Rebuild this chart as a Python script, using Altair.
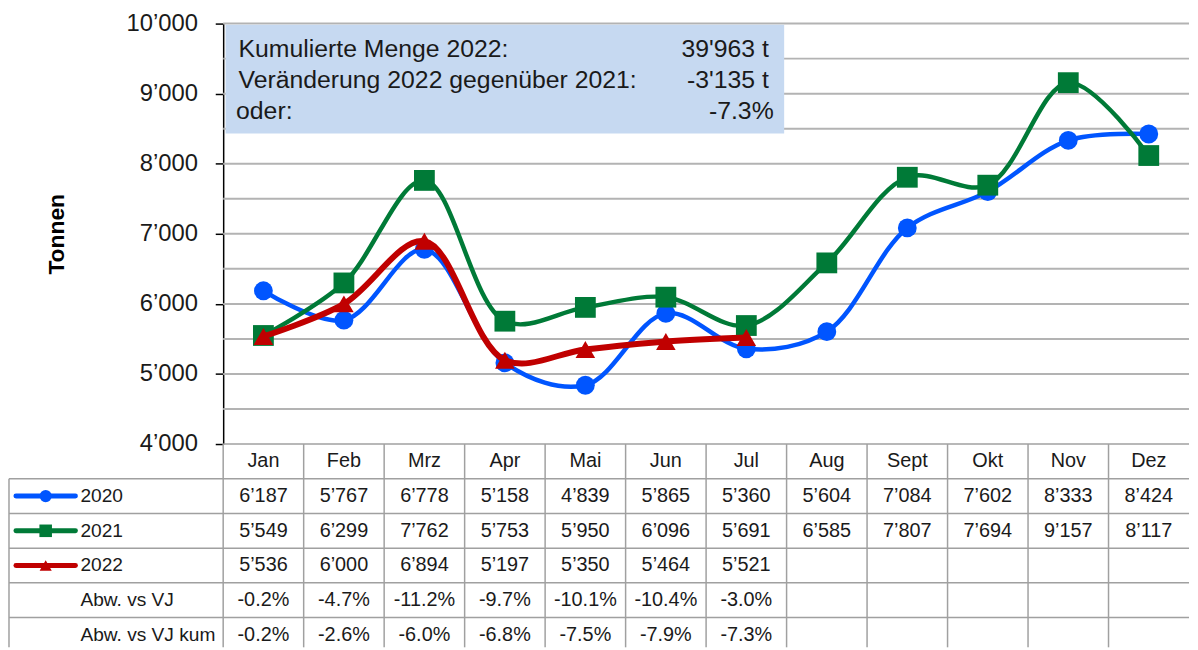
import altair as alt
import pandas as pd

# ---------------- data ----------------
months = ["Jan", "Feb", "Mrz", "Apr", "Mai", "Jun", "Jul", "Aug", "Sept", "Okt", "Nov", "Dez"]
v2020 = [6187, 5767, 6778, 5158, 4839, 5865, 5360, 5604, 7084, 7602, 8333, 8424]
v2021 = [5549, 6299, 7762, 5753, 5950, 6096, 5691, 6585, 7807, 7694, 9157, 8117]
v2022 = [5536, 6000, 6894, 5197, 5350, 5464, 5521]
abw = [-0.2, -4.7, -11.2, -9.7, -10.1, -10.4, -3.0]
abw_kum = [-0.2, -2.6, -6.0, -6.8, -7.5, -7.9, -7.3]

series_names = ["2020", "2021", "2022"]
series_values = [v2020, v2021, v2022]
series_colors = ["#0055ff", "#007a37", "#c00000"]
series_shapes = ["circle", "square", "triangle-up"]
series_widths = [4.5, 4.5, 6]
series_sizes = [360, 440, 390]
legend_sizes = [150, 160, 150]

row_labels = ["2020", "2021", "2022", "Abw. vs VJ", "Abw. vs VJ kum"]
info_labels = ["Kumulierte Menge 2022:", "Veränderung 2022 gegenüber 2021:", "oder:"]
info_values = ["39'963 t", "-3'135 t", "-7.3%"]
y_ticks = list(range(4000, 10001, 1000))
grid_values = list(range(4500, 10001, 500))

# ---------------- layout ----------------
FONT = "Liberation Sans"
W, H = 974, 424          # plot area of the line chart
TH, ROW = 205, 35        # table height / row height (px)
UNIT = W / 12            # px per month column
LEFT = 216 / UNIT        # width of the label column in column units
NROWS = TH / ROW
TXT = "#1a1a1a"
GRIDC = "#b3b3b3"
TABC = "#a0a0a0"
TFS = 20                 # table font size

xs = alt.Scale(domain=[0, 12], nice=False, zero=False)
ys = alt.Scale(domain=[4000, 10000], nice=False, zero=False)

yaxis = alt.Axis(
    values=y_ticks,
    labelExpr="replace(format(datum.value, ','), ',', '’')",
    labelFont=FONT, labelFontSize=24, labelColor=TXT, labelPadding=18,
    tickSize=8, tickColor="black", tickWidth=1.5,
    domainColor="black", domainWidth=1.5, grid=False,
    title="Tonnen", titleFont=FONT, titleFontSize=23, titleFontWeight="bold",
    titleColor="black", titlePadding=58,
)

# horizontal grid lines
grid_df = pd.DataFrame({"v": grid_values, "x0": 0, "x1": 12})
grid = alt.Chart(grid_df).mark_rule(color=GRIDC, strokeWidth=2).encode(
    x=alt.X("x0:Q", scale=xs, axis=None),
    x2="x1:Q",
    y=alt.Y("v:Q", scale=ys, axis=yaxis),
)

# info box
box_df = pd.DataFrame({"x0": [0.03], "x1": [6.97], "y0": [8430], "y1": [9985]})
box = alt.Chart(box_df).mark_rect(color="#c6d9f1").encode(
    x=alt.X("x0:Q", scale=xs), x2="x1:Q",
    y=alt.Y("y0:Q", scale=ys), y2="y1:Q",
)
info_y = [9632, 9193, 8745]
info_df = pd.DataFrame({"label": info_labels, "value": info_values, "y": info_y,
                        "xl": [0.19, 0.19, 0.16], "xr": [6.78, 6.78, 6.84]})
info_left = alt.Chart(info_df).mark_text(
    align="left", baseline="middle", font=FONT, fontSize=25, color=TXT
).encode(x=alt.X("xl:Q", scale=xs), y=alt.Y("y:Q", scale=ys), text="label:N")
info_right = alt.Chart(info_df).mark_text(
    align="right", baseline="middle", font=FONT, fontSize=25, color=TXT
).encode(x=alt.X("xr:Q", scale=xs), y=alt.Y("y:Q", scale=ys), text="value:N")

layers = [grid, box, info_left, info_right]
for name, vals, col, shp, sw, sz in zip(series_names, series_values, series_colors,
                                         series_shapes, series_widths, series_sizes):
    df = pd.DataFrame({"x": [i + 0.5 for i in range(len(vals))], "v": vals})
    base = alt.Chart(df).encode(x=alt.X("x:Q", scale=xs), y=alt.Y("v:Q", scale=ys))
    layers.append(base.mark_line(color=col, strokeWidth=sw, interpolate="catmull-rom"))
    layers.append(base.mark_point(shape=shp, filled=True, color=col, size=sz, opacity=1))

top = alt.layer(*layers).properties(width=W, height=H)

# ---------------- table ----------------
tx = alt.Scale(domain=[0, 12], nice=False, zero=False)
ty = alt.Scale(domain=[0, NROWS], nice=False, zero=False, reverse=True)

segs = [(0, 12, 0, 0)]
segs += [(-LEFT, 12, r, r) for r in range(1, 6)]
segs += [(c, c, 0, NROWS) for c in range(0, 12)]
segs += [(-LEFT, -LEFT, 1, NROWS)]
seg_df = pd.DataFrame(segs, columns=["x0", "x1", "y0", "y1"])
tgrid = alt.Chart(seg_df).mark_rule(color=TABC, strokeWidth=1.5).encode(
    x=alt.X("x0:Q", scale=tx, axis=None), x2="x1:Q",
    y=alt.Y("y0:Q", scale=ty, axis=None), y2="y1:Q",
)

head_df = pd.DataFrame({"x": [i + 0.5 for i in range(12)], "y": 0.5, "t": months})
head = alt.Chart(head_df).mark_text(font=FONT, fontSize=TFS, color=TXT, baseline="middle").encode(
    x=alt.X("x:Q", scale=tx), y=alt.Y("y:Q", scale=ty), text="t:N")

num_rows = []
for r, vals in enumerate(series_values):
    for i, v in enumerate(vals):
        num_rows.append({"x": i + 0.5, "y": r + 1.5, "v": v})
num_df = pd.DataFrame(num_rows)
nums = alt.Chart(num_df).transform_calculate(
    t="replace(format(datum.v, ','), ',', '’')"
).mark_text(font=FONT, fontSize=TFS, color=TXT, baseline="middle").encode(
    x=alt.X("x:Q", scale=tx), y=alt.Y("y:Q", scale=ty), text="t:N")

pct_rows = []
for r, vals in ((4, abw), (5, abw_kum)):
    for i, v in enumerate(vals):
        pct_rows.append({"x": i + 0.5, "y": r + 0.5, "v": v})
pct_df = pd.DataFrame(pct_rows)
pcts = alt.Chart(pct_df).transform_calculate(
    t="(datum.v < 0 ? '-' : '') + format(abs(datum.v) / 100, '.1%')"
).mark_text(font=FONT, fontSize=TFS, color=TXT, baseline="middle").encode(
    x=alt.X("x:Q", scale=tx), y=alt.Y("y:Q", scale=ty), text="t:N")

lab_df = pd.DataFrame({"t": row_labels, "y": [r + 1.5 for r in range(5)], "x": -144 / UNIT})
labs = alt.Chart(lab_df).mark_text(font=FONT, fontSize=19.3, color=TXT, align="left",
                                   baseline="middle").encode(
    x=alt.X("x:Q", scale=tx), y=alt.Y("y:Q", scale=ty), text="t:N")

tlayers = [tgrid, head, nums, pcts, labs]
for r, (col, shp, lsz) in enumerate(zip(series_colors, series_shapes, legend_sizes)):
    ldf = pd.DataFrame({"x0": [-209 / UNIT], "x1": [-149 / UNIT], "xm": [-179 / UNIT],
                        "y": [r + 1.5]})
    tlayers.append(alt.Chart(ldf).mark_rule(color=col, strokeWidth=5, strokeCap="round").encode(
        x=alt.X("x0:Q", scale=tx), x2="x1:Q", y=alt.Y("y:Q", scale=ty)))
    tlayers.append(alt.Chart(ldf).mark_point(shape=shp, filled=True, color=col, size=lsz,
                                             opacity=1).encode(
        x=alt.X("xm:Q", scale=tx), y=alt.Y("y:Q", scale=ty)))

table = alt.layer(*tlayers).properties(width=W, height=TH)

chart = alt.vconcat(top, table, spacing=0, bounds="flush").properties(
    padding={"left": 0, "top": 1, "right": 0, "bottom": 0},
    background="white",
).configure_view(stroke=None)

chart.save("out.html", embed_options={"renderer": "svg", "actions": False})
